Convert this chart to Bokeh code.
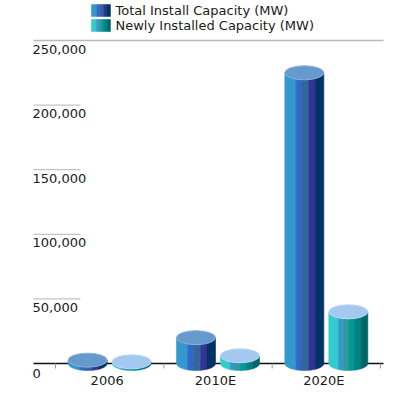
import numpy as np
from bokeh.plotting import figure
from bokeh.models import Range1d
from bokeh.core.properties import value
from bokeh.embed import file_html
from bokeh.resources import INLINE

# ---------------- data ----------------
categories = ["2006", "2010E", "2020E"]
total_capacity = [2600, 20000, 225000]
newly_installed = [1300, 6000, 40000]
series_names = ["Total Install Capacity (MW)", "Newly Installed Capacity (MW)"]
y_ticks = [0, 50000, 100000, 150000, 200000, 250000]
y_tick_labels = ["0", "50,000", "100,000", "150,000", "200,000", "250,000"]

# ---------------- styles ----------------
total_stripes = [(0.00, 0.29, "#3399cc"), (0.29, 0.44, "#3366cc"), (0.44, 0.62, "#336699"),
                 (0.62, 0.78, "#333399"), (0.78, 1.00, "#003366")]
newly_stripes = [(0.00, 0.25, "#33cccc"), (0.25, 0.38, "#3399cc"), (0.38, 0.51, "#339999"),
                 (0.51, 0.66, "#009999"), (0.66, 0.83, "#008080"), (0.83, 1.00, "#006666")]
top_colors = ["#6699cc", "#a4c8f0"]
top_edges = ["#8ab2dc", "#bcd8f6"]
FONT = value("DejaVu Sans")
FS = "13px"
TXT = "#1a1a1a"

# ---------------- layout (page pixels -> data) ----------------
W, H = 414, 398
PX_UNIT = 108.33          # px per category
X0_PAGE = 55              # page x of category boundary 0
Y0_PAGE = 363             # page y of value 0
PX_PER_Y = 323 / 250000   # px per value unit


def dx(px):
    return (px - X0_PAGE) / PX_UNIT


def dy(py):
    return (Y0_PAGE - py) / PX_PER_Y


p = figure(width=W, height=H,
           x_range=Range1d(dx(0), dx(W)), y_range=Range1d(dy(H), dy(0)),
           output_backend="svg", toolbar_location=None,
           x_axis_location=None, y_axis_location=None,
           min_border=0, outline_line_color=None,
           background_fill_color="white", border_fill_color="white")
p.grid.visible = False

# ---------------- y ticks / grid ----------------
for v, lab in zip(y_ticks, y_tick_labels):
    if v == max(y_ticks):
        p.line([dx(33), dx(383)], [v, v], line_color="#bbbbbb", line_width=1.6)
    elif v > 0:
        p.line([dx(33), dx(80)], [v, v], line_color="#c4c4c4", line_width=1.2)
    off = 10 if v == 0 else 8.5
    p.text(x=[dx(32)], y=[v - off / PX_PER_Y], text=[lab], text_font=FONT,
           text_font_size=FS, text_color=TXT, text_align="left",
           text_baseline="middle")

# ---------------- baseline & category ticks ----------------
p.line([dx(33), dx(383)], [0, 0], line_color="#111111", line_width=1.6)
for k in range(len(categories) + 1):
    p.line([k, k], [0, -5 / PX_PER_Y], line_color="#999999", line_width=1)

for i, c in enumerate(categories):
    p.text(x=[i + 0.5 - 2.5 / PX_UNIT], y=[-17 / PX_PER_Y], text=[c], text_font=FONT,
           text_font_size=FS, text_color=TXT, text_align="center",
           text_baseline="middle")

# ---------------- cylinders ----------------
bar_w = 39 / PX_UNIT
ell_h = 14 / PX_PER_Y
offsets = [-22 / PX_UNIT, 22 / PX_UNIT]
series = [total_capacity, newly_installed]
stripes = [total_stripes, newly_stripes]

for s, vals in enumerate(series):
    xs, ys, cols = [], [], []
    for i, v in enumerate(vals):
        cx = i + 0.5 + offsets[s]
        for f0, f1, col in stripes[s]:
            fr = np.linspace(f0, f1, 12)
            xx = cx - bar_w / 2 + fr * bar_w
            t = (xx - cx) / (bar_w / 2)
            yb = -ell_h / 2 * np.sqrt(np.clip(1 - t * t, 0, 1))
            px = [xx[0], xx[-1]] + list(xx[::-1])
            py = [v, v] + list(yb[::-1])
            xs.append(px)
            ys.append(py)
            cols.append(col)
    p.patches(xs, ys, fill_color=cols, line_color=cols, line_width=0.6)
    cxs = [i + 0.5 + offsets[s] for i in range(len(vals))]
    p.ellipse(x=cxs, y=vals, width=bar_w, height=ell_h,
              fill_color=top_colors[s], line_color=top_edges[s], line_width=1)

# ---------------- legend ----------------
leg_rows = [(4, 16), (19, 31)]
for s, name in enumerate(series_names):
    top_px, bot_px = leg_rows[s]
    for f0, f1, col in stripes[s]:
        p.quad(left=[dx(91 + 19 * f0)], right=[dx(91 + 19 * f1)],
               top=[dy(top_px)], bottom=[dy(bot_px)],
               fill_color=col, line_color=col, line_width=0.5)
    p.text(x=[dx(115)], y=[dy((top_px + bot_px) / 2)], text=[name], text_font=FONT,
           text_font_size=FS, text_color=TXT, text_align="left",
           text_baseline="middle")

open("out.html", "w").write(file_html(p, INLINE))
